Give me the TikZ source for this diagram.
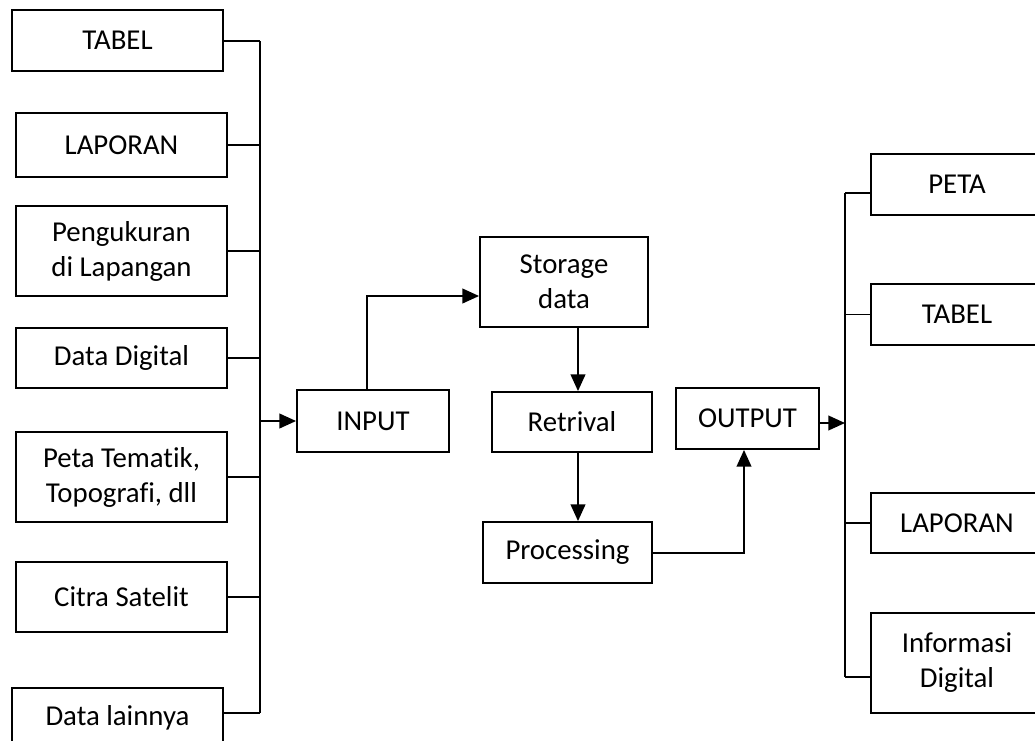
\documentclass[tikz,border=0pt]{standalone}
\usepackage{fontspec}
\setmainfont[Ligatures={NoCommon}]{Carlito}
\usetikzlibrary{arrows.meta}
\tikzset{
  box/.style={draw, line width=1.4pt, align=center, inner sep=0pt,
    font=\fontsize{21.6}{26.25}\selectfont},
  wire/.style={line width=1.4pt},
  arr/.style={line width=1.4pt, -{Triangle[length=12.5pt,width=11pt]}}
}
\begin{document}
\begin{tikzpicture}[x=0.75pt,y=-0.75pt]
\clip (0,0) rectangle (1035,740);
% left inputs
\node[box, minimum width=158.25pt, minimum height=45.75pt] (tabelL) at (117.5,40.5) {TABEL};
\node[box, minimum width=158.25pt, minimum height=48pt] (lapL) at (121.5,145) {LAPORAN};
\node[box, minimum width=158.25pt, minimum height=67.5pt] (peng) at (121.5,251) {Pengukuran\\di Lapangan};
\node[box, minimum width=158.25pt, minimum height=45pt] (dd) at (121.5,358) {Data Digital};
\node[box, minimum width=158.25pt, minimum height=67.5pt] (ptm) at (121.5,477) {Peta Tematik,\\Topografi, dll};
\node[box, minimum width=158.25pt, minimum height=52.5pt] (cs) at (121.5,597) {Citra Satelit};
\node[box, minimum width=158.25pt, minimum height=45pt] (dl) at (117.5,718) {Data lainnya};
% centre
\node[box, minimum width=114pt, minimum height=46.5pt] (input) at (373,421) {INPUT};
\node[box, minimum width=126pt, minimum height=67.5pt] (storage) at (564,282) {Storage\\data};
\node[box, minimum width=120pt, minimum height=45pt] (retr) at (572,422) {Retrival};
\node[box, minimum width=126.75pt, minimum height=45.75pt] (proc) at (567.5,552.5) {Processing};
\node[box, minimum width=107.25pt, minimum height=45.75pt] (output) at (747.5,418.5) {OUTPUT};
% right outputs
\node[box, minimum width=129pt, minimum height=45.75pt] (peta) at (957,184.5) {PETA};
\node[box, minimum width=129pt, minimum height=45.75pt] (tabelR) at (957,314.5) {TABEL};
\node[box, minimum width=129pt, minimum height=45pt] (lapR) at (957,523) {LAPORAN};
\node[box, minimum width=129pt, minimum height=75pt] (info) at (957,663) {Informasi\\Digital};
% coordinates
\coordinate (busLtop) at (260,41);
\coordinate (busLbot) at (260,713);
\coordinate (busRtop) at (845,193);
\coordinate (busRbot) at (845,677);
\coordinate (busRin) at (845,423);
\coordinate (b1) at (367,296);
\coordinate (c1) at (578,0);
\coordinate (c2) at (744,553);
% left bus
\draw[wire] (busLtop) -- (busLbot);
\draw[wire] (tabelL.east |- busLtop) -- (busLtop);
\draw[wire] (lapL.east) -- (lapL.east -| busLtop);
\draw[wire] (peng.east) -- (peng.east -| busLtop);
\draw[wire] (dd.east) -- (dd.east -| busLtop);
\draw[wire] (ptm.east) -- (ptm.east -| busLtop);
\draw[wire] (cs.east) -- (cs.east -| busLtop);
\draw[wire] (dl.east |- busLbot) -- (busLbot);
\draw[arr] (input.west -| busLtop) -- (input.west);
% centre flow
\draw[arr] (input.north -| b1) -- (b1) -- (b1 -| storage.west);
\draw[arr] (storage.south -| c1) -- (retr.north -| c1);
\draw[arr] (retr.south -| c1) -- (proc.north -| c1);
\draw[arr] (proc.east |- c2) -- (c2) -- (output.south -| c2);
\draw[arr] (output.east |- busRin) -- (busRin);
% right bus
\draw[wire] (busRtop) -- (busRbot);
\draw[wire] (busRtop) -- (peta.west |- busRtop);
\draw[wire] (tabelR.west -| busRtop) -- (tabelR.west);
\draw[wire] (lapR.west -| busRtop) -- (lapR.west);
\draw[wire] (busRbot) -- (info.west |- busRbot);
\end{tikzpicture}
\end{document}
